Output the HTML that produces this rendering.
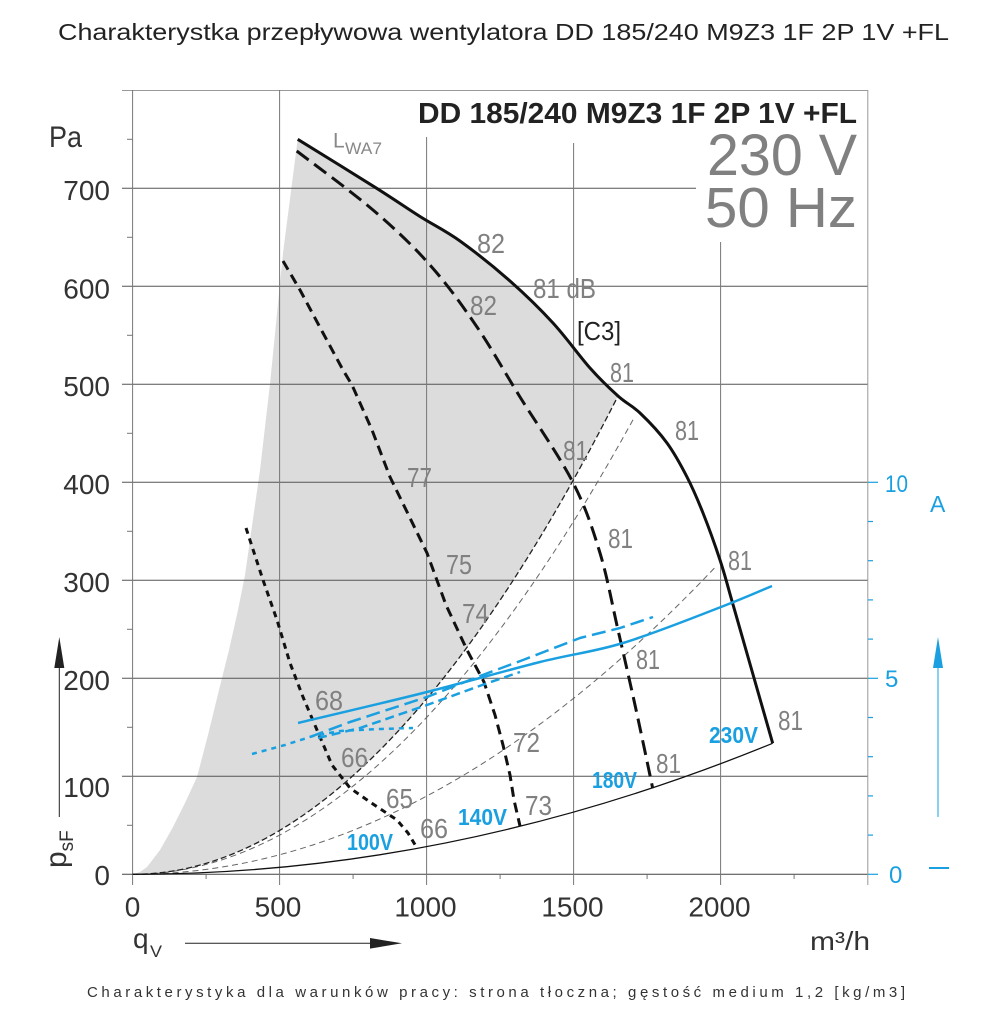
<!DOCTYPE html>
<html><head><meta charset="utf-8"><style>html,body{margin:0;padding:0;background:#fff}svg{display:block}</style></head>
<body>
<svg width="1000" height="1028" viewBox="0 0 1000 1028" xmlns="http://www.w3.org/2000/svg" font-family="'Liberation Sans', Arial, sans-serif">
<rect width="1000" height="1028" fill="#fff"/>

<!-- page title -->
<text x="58" y="40" font-size="23" fill="#222" textLength="891" lengthAdjust="spacingAndGlyphs">Charakterystka przepływowa wentylatora DD 185/240 M9Z3 1F 2P 1V +FL</text>

<!-- gray working area -->
<path d="M133,874.3 L140,872 L147,867 L160,850 L173,827 L185,803 L197,777 L208,735 L219,690 L229,650 L238,610 L245,575 L250,540 L255,505 L260,470 L265,427 L270,384 L283,253 L297.7,139.3 C310.9,147.5 356.3,175.4 376.7,188.3 C397.1,201.2 406.1,207.7 420,216.5 C433.9,225.3 445,230.3 460,241 C475,251.8 494.5,267.3 510,281 C525.5,294.7 539.7,308.5 553,323 C566.3,337.5 579.2,355.8 590,368 C600.8,380.2 609.7,388.5 618,396 Q375.3,874.3 132.6,874.3 Z" fill="#dcdcdc"/>

<!-- grid -->
<g stroke="#555" stroke-width="1" fill="none">
<line x1="122" y1="188.3" x2="696" y2="188.3"/>
<line x1="122" y1="286.3" x2="868" y2="286.3"/>
<line x1="122" y1="384.3" x2="868" y2="384.3"/>
<line x1="122" y1="482.3" x2="868" y2="482.3"/>
<line x1="122" y1="580.3" x2="868" y2="580.3"/>
<line x1="122" y1="678.3" x2="868" y2="678.3"/>
<line x1="122" y1="776.3" x2="868" y2="776.3"/>
<line x1="122" y1="874.3" x2="868" y2="874.3" stroke="#444"/>
</g>
<line x1="122" y1="90.5" x2="868" y2="90.5" stroke="#999" stroke-width="1"/>
<g stroke="#777" stroke-width="1">
<line x1="132.6" y1="90" x2="132.6" y2="885"/>
<line x1="279.6" y1="90" x2="279.6" y2="885"/>
<line x1="426.6" y1="137" x2="426.6" y2="885"/>
<line x1="573.6" y1="143" x2="573.6" y2="885"/>
<line x1="720.6" y1="242" x2="720.6" y2="885"/>
<line x1="867.8" y1="90" x2="867.8" y2="885" stroke="#999"/>
</g>
<g stroke="#777" stroke-width="1">
<line x1="127" y1="825.3" x2="132.6" y2="825.3"/>
<line x1="127" y1="727.3" x2="132.6" y2="727.3"/>
<line x1="127" y1="629.3" x2="132.6" y2="629.3"/>
<line x1="127" y1="531.3" x2="132.6" y2="531.3"/>
<line x1="127" y1="433.3" x2="132.6" y2="433.3"/>
<line x1="127" y1="335.3" x2="132.6" y2="335.3"/>
<line x1="127" y1="237.3" x2="132.6" y2="237.3"/>
<line x1="127" y1="139.3" x2="132.6" y2="139.3"/>
<line x1="206.1" y1="874.3" x2="206.1" y2="879"/>
<line x1="353.1" y1="874.3" x2="353.1" y2="879"/>
<line x1="500.1" y1="874.3" x2="500.1" y2="879"/>
<line x1="647.1" y1="874.3" x2="647.1" y2="879"/>
<line x1="794.1" y1="874.3" x2="794.1" y2="879"/>
</g>
<!-- right blue ticks -->
<g stroke="#1aa0e0" stroke-width="1.2">
<line x1="868" y1="874.3" x2="878" y2="874.3"/>
<line x1="868" y1="678.3" x2="878" y2="678.3"/>
<line x1="868" y1="482.3" x2="878" y2="482.3"/>
<line x1="868" y1="835.1" x2="873" y2="835.1"/>
<line x1="868" y1="795.9" x2="873" y2="795.9"/>
<line x1="868" y1="756.7" x2="873" y2="756.7"/>
<line x1="868" y1="717.5" x2="873" y2="717.5"/>
<line x1="868" y1="639.1" x2="873" y2="639.1"/>
<line x1="868" y1="599.9" x2="873" y2="599.9"/>
<line x1="868" y1="560.7" x2="873" y2="560.7"/>
<line x1="868" y1="521.5" x2="873" y2="521.5"/>
</g>

<!-- system curves -->
<path d="M132.6,874.3 Q424.2,874.3 715.7,566.7" fill="none" stroke="#666" stroke-width="1" stroke-dasharray="6 4"/>
<path d="M132.6,874.3 Q383.3,874.3 634,418" fill="none" stroke="#666" stroke-width="1" stroke-dasharray="6 4"/>
<path d="M132.6,874.3 Q375.3,874.3 618,396" fill="none" stroke="#222" stroke-width="1.3" stroke-dasharray="6 3"/>
<path d="M132.6,874.3 Q452.6,874.3 772.6,743.3" fill="none" stroke="#111" stroke-width="1.3"/>

<!-- fan curves -->
<path fill="none" stroke="#111" stroke-width="3" stroke-linejoin="round" d="M297.7,139.3 C310.9,147.5 356.3,175.4 376.7,188.3 C397.1,201.2 406.1,207.7 420,216.5 C433.9,225.3 445,230.3 460,241 C475,251.8 494.5,267.3 510,281 C525.5,294.7 539.7,308.5 553,323 C566.3,337.5 579.2,355.8 590,368 C600.8,380.2 609.7,388.5 618,396 C626.3,403.5 631.8,405.2 640,413 C648.2,420.8 659.2,432.3 667,443 C674.8,453.7 681,465.3 687,477 C693,488.7 697.5,499.2 703,513 C708.5,526.8 715.2,545.5 720,560 C724.8,574.5 727.4,585 731.7,600 C736,615 739.2,626.1 746,650 C752.8,673.9 768.3,727.8 772.7,743.3"/>
<path fill="none" stroke="#111" stroke-width="3" stroke-dasharray="15 7" d="M296.7,151 C309.4,160.8 350.8,191 373,210 C395.2,229 412.7,245.5 430,265 C447.3,284.5 462,305 477,327 C492,349 504,371.2 520,397 C536,422.8 559.4,456 572.7,482 C586,508 592.5,528.3 600,553 C607.5,577.7 612.2,604.7 618,630 C623.8,655.3 629.2,678.6 635,705 C640.8,731.4 649.8,774.4 652.7,788.3"/>
<polyline fill="none" stroke="#111" stroke-width="3" stroke-dasharray="10 6" stroke-linejoin="round" points="283,261 300,290 323,333 343,370 352,385 372,430 390,477 410,518 427,553 446,605 467,650 484,682 495,715 503,745 510,775 514,800 520,826"/>
<polyline fill="none" stroke="#111" stroke-width="3" stroke-dasharray="6 5" stroke-linejoin="round" points="246,528 263,580 277,620 290,663 303,697 317,730 332,765 350,788 370,802 397,820 408,833 417,848"/>

<!-- current curves -->
<path fill="none" stroke="#1aa0e0" stroke-width="2.5" d="M298,723 C319.5,717.8 386.7,702.2 427,692 C467.3,681.8 507.3,670.2 540,662 C572.7,653.8 592.8,652.2 623,643 C653.2,633.8 696.2,616.5 721,607 C745.8,597.5 763.5,589.5 772,586"/>
<polyline fill="none" stroke="#1aa0e0" stroke-width="2.5" stroke-dasharray="14 6" stroke-linejoin="round" points="310,737 350,722 427,697 480,676 523,660 580,638 620,628 653,617"/>
<polyline fill="none" stroke="#1aa0e0" stroke-width="2.5" stroke-dasharray="9 5" stroke-linejoin="round" points="318,738 360,728 427,705 485,684 520,672"/>
<polyline fill="none" stroke="#1aa0e0" stroke-width="2.5" stroke-dasharray="5 5" stroke-linejoin="round" points="252,754 285,745 313,736 340,731 380,729 413,728"/>

<!-- header texts -->
<text x="418" y="123" font-size="29" font-weight="bold" fill="#222" textLength="439" lengthAdjust="spacingAndGlyphs">DD 185/240 M9Z3 1F 2P 1V +FL</text>
<text x="707" y="175" font-size="58" fill="#808080" textLength="150" lengthAdjust="spacingAndGlyphs">230 V</text>
<text x="705" y="227" font-size="57" fill="#808080" textLength="152" lengthAdjust="spacingAndGlyphs">50 Hz</text>

<!-- LWA7 -->
<text x="333" y="147.7" font-size="21" fill="#888">L</text>
<text x="345" y="154" font-size="17" fill="#888" textLength="37" lengthAdjust="spacingAndGlyphs">WA7</text>

<!-- dB labels -->
<g font-size="28" fill="#808080">
<text x="477" y="253" textLength="28" lengthAdjust="spacingAndGlyphs">82</text>
<text x="533" y="298" textLength="63" lengthAdjust="spacingAndGlyphs">81 dB</text>
<text x="470" y="315" textLength="27" lengthAdjust="spacingAndGlyphs">82</text>
<text x="610" y="382" textLength="24" lengthAdjust="spacingAndGlyphs">81</text>
<text x="675" y="440" textLength="24" lengthAdjust="spacingAndGlyphs">81</text>
<text x="563" y="460" textLength="25" lengthAdjust="spacingAndGlyphs">81</text>
<text x="608" y="548" textLength="25" lengthAdjust="spacingAndGlyphs">81</text>
<text x="728" y="570" textLength="24" lengthAdjust="spacingAndGlyphs">81</text>
<text x="636" y="669" textLength="24" lengthAdjust="spacingAndGlyphs">81</text>
<text x="656" y="773" textLength="25" lengthAdjust="spacingAndGlyphs">81</text>
<text x="778" y="730" textLength="25" lengthAdjust="spacingAndGlyphs">81</text>
<text x="407" y="487" textLength="25" lengthAdjust="spacingAndGlyphs">77</text>
<text x="446" y="574" textLength="26" lengthAdjust="spacingAndGlyphs">75</text>
<text x="462" y="623" textLength="27" lengthAdjust="spacingAndGlyphs">74</text>
<text x="315" y="710" textLength="28" lengthAdjust="spacingAndGlyphs">68</text>
<text x="341" y="767" textLength="27" lengthAdjust="spacingAndGlyphs">66</text>
<text x="386" y="808" textLength="27" lengthAdjust="spacingAndGlyphs">65</text>
<text x="420" y="838" textLength="28" lengthAdjust="spacingAndGlyphs">66</text>
<text x="513" y="752" textLength="27" lengthAdjust="spacingAndGlyphs">72</text>
<text x="525" y="815" textLength="27" lengthAdjust="spacingAndGlyphs">73</text>
</g>
<text x="577" y="340" font-size="26" fill="#222" textLength="44" lengthAdjust="spacingAndGlyphs">[C3]</text>

<!-- voltage labels -->
<g font-size="23" font-weight="bold" fill="#1aa0e0">
<text x="347" y="850" textLength="46" lengthAdjust="spacingAndGlyphs">100V</text>
<text x="458" y="825" textLength="49" lengthAdjust="spacingAndGlyphs">140V</text>
<text x="592" y="788" textLength="45" lengthAdjust="spacingAndGlyphs">180V</text>
<text x="709" y="743" textLength="49" lengthAdjust="spacingAndGlyphs">230V</text>
</g>

<!-- y axis labels -->
<g font-size="28" fill="#333" text-anchor="end">
<text x="110" y="200">700</text>
<text x="110" y="298.5">600</text>
<text x="110" y="396">500</text>
<text x="110" y="494">400</text>
<text x="110" y="592">300</text>
<text x="110" y="690">200</text>
<text x="110" y="797">100</text>
<text x="110" y="885">0</text>
</g>
<text x="49" y="147" font-size="30" fill="#333" textLength="33" lengthAdjust="spacingAndGlyphs">Pa</text>

<!-- x axis labels -->
<g font-size="28" fill="#333" text-anchor="middle">
<text x="132.6" y="916.5">0</text>
<text x="278" y="916.5">500</text>
<text x="425.5" y="916.5">1000</text>
<text x="572.5" y="916.5">1500</text>
<text x="719.5" y="916.5">2000</text>
</g>
<text x="810" y="950" font-size="26" fill="#333" textLength="60" lengthAdjust="spacingAndGlyphs">m³/h</text>

<!-- qV and arrow -->
<text x="133" y="948" font-size="28" fill="#333">q</text>
<text x="150" y="957" font-size="17" fill="#333" textLength="12" lengthAdjust="spacingAndGlyphs">V</text>
<line x1="185" y1="943.3" x2="375" y2="943.3" stroke="#222" stroke-width="1"/>
<polygon points="370,938 370,948.6 402,943.3" fill="#222"/>

<!-- psF and arrow -->
<text transform="translate(66,868) rotate(-90)" font-size="30" fill="#333">p<tspan font-size="19" dy="7">sF</tspan></text>
<line x1="59.3" y1="817" x2="59.3" y2="660" stroke="#222" stroke-width="1"/>
<polygon points="54.3,668 64.3,668 59.3,637" fill="#222"/>

<!-- right axis -->
<g font-size="24" fill="#1aa0e0">
<text x="885" y="492" textLength="23" lengthAdjust="spacingAndGlyphs">10</text>
<text x="885" y="687">5</text>
<text x="889" y="883">0</text>
<text x="930" y="512" font-size="23">A</text>
</g>
<line x1="938" y1="668" x2="938" y2="817" stroke="#1aa0e0" stroke-width="1"/>
<polygon points="933,668 943,668 938,637" fill="#1aa0e0"/>
<line x1="929" y1="868" x2="949" y2="868" stroke="#1aa0e0" stroke-width="2"/>

<!-- caption -->
<text x="87" y="997" font-size="15" fill="#333" textLength="818" lengthAdjust="spacing">Charakterystyka dla warunków pracy: strona tłoczna; gęstość medium 1,2 [kg/m3]</text>
</svg>
</body></html>
